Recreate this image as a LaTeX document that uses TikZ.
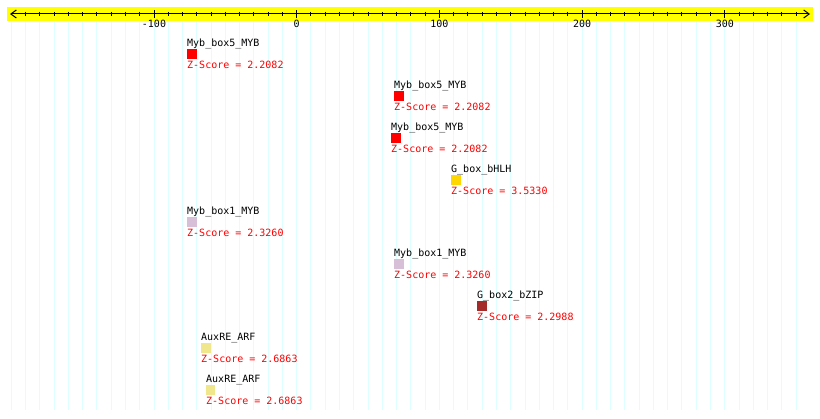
\documentclass[tikz,border=0pt]{standalone}
\usepackage{fontspec}
\setmonofont{DejaVu Sans Mono}
\usetikzlibrary{arrows.meta}

\definecolor{bandyellow}{RGB}{255,255,0}
\definecolor{gridcyan}{RGB}{222,255,255}
\definecolor{mybred}{RGB}{255,0,0}
\definecolor{gboxgold}{RGB}{255,215,0}
\definecolor{mybthistle}{RGB}{216,191,216}
\definecolor{bzipbrown}{RGB}{165,42,42}
\definecolor{arfkhaki}{RGB}{240,230,140}

\begin{document}
\begin{tikzpicture}[
        x=1pt, y=-1pt,
        font=\ttfamily\fontsize{10}{12}\selectfont,
        grid/.style={draw=gridcyan, line width=1pt},
        tick/.style={draw=black, line width=1pt},
        axis/.style={line width=1pt,
            {Straight Barb[length=5.5pt,width=8pt]}-{Straight Barb[length=5.5pt,width=8pt]}},
        sitebox/.style={
            rectangle, draw=none, inner sep=0pt,
            minimum width=10pt, minimum height=10pt,
            anchor=north west
        },
        sitename/.style={anchor=base west, inner sep=0pt, text=black},
        zscore/.style={anchor=base west, inner sep=0pt, text=mybred},
        ticklabel/.style={anchor=base, inner sep=0pt}
    ]
    \useasboundingbox (0,0) rectangle (820,419);

    % Grid lines every 10 bp
    \foreach \u in {-200,-190,...,350}
        \draw[grid] ({296.7+1.427*\u},21) -- ++(0,389);

    % Ruler band
    \fill[bandyellow] (7,7) rectangle (813,21);
    \coordinate (axl) at (10,14);
    \coordinate (axr) at (810,14);
    \draw[axis] (axl) -- (axr);
    \foreach \u in {-190,-180,...,350}
        \draw[tick] ({296.7+1.427*\u},12) -- ++(0,4);
    \foreach \u in {-100,0,100,200,300} {
        \draw[tick] ({296.7+1.427*\u},10) -- ++(0,8);
        \node[ticklabel] (t\u) at ({296.7+1.427*\u},28) {\u};
    }

    % Binding sites
    \foreach \i/\x/\y/\w/\c/\n/\z in {
        1/187/49/10/mybred/Myb\_box5\_MYB/2.2082,
        2/394/91/10/mybred/Myb\_box5\_MYB/2.2082,
        3/391/133/10/mybred/Myb\_box5\_MYB/2.2082,
        4/451/175/10/gboxgold/G\_box\_bHLH/3.5330,
        5/187/217/10/mybthistle/Myb\_box1\_MYB/2.3260,
        6/394/259/10/mybthistle/Myb\_box1\_MYB/2.3260,
        7/477/301/10/bzipbrown/G\_box2\_bZIP/2.2988,
        8/201/343/10/arfkhaki/AuxRE\_ARF/2.6863,
        9/206/385/9/arfkhaki/AuxRE\_ARF/2.6863} {
        \node[sitebox, fill=\c, minimum width=\w pt] (s\i) at (\x,\y) {};
        \node[sitename] (s\i n) at ([yshift=2.5pt]s\i.north west) {\n};
        \node[zscore] (s\i z) at ([yshift=-9pt]s\i.south west) {Z-Score = \z};
    }

    \end{tikzpicture}
\end{document}
